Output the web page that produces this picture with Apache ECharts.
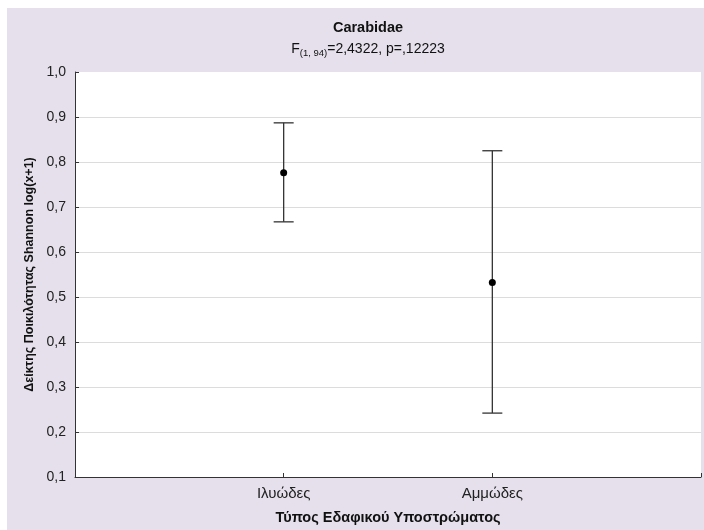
<!DOCTYPE html>
<html>
<head>
<meta charset="utf-8">
<script src="https://cdn.jsdelivr.net/npm/echarts@6/dist/echarts.min.js"></script>
<style>
  html, body { margin: 0; padding: 0; background: #ffffff; width: 704px; height: 530px; overflow: hidden; }
  #chart { position: absolute; left: 7px; top: 8px; width: 697px; height: 522px; }
</style>
</head>
<body>
<div id="chart"></div>
<script>
// Soil substrate groups and Shannon diversity (mean with interval bounds)
const categories = ['Ιλυώδες', 'Αμμώδες'];
const means = [0.776, 0.532];
const lowerBounds = [0.667, 0.242];
const upperBounds = [0.887, 0.825];
const yTicks = [0.1, 0.2, 0.3, 0.4, 0.5, 0.6, 0.7, 0.8, 0.9, 1.0];

const FONT = '"Liberation Sans", Arial, sans-serif';

const barData = categories.map((c, i) => [i + 1, lowerBounds[i], upperBounds[i], means[i]]);

const chart = echarts.init(document.getElementById('chart'));
chart.setOption({
  backgroundColor: '#e5e0eb',
  animation: false,
  title: {
    text: 'Carabidae',
    subtext: 'F{sub|(1, 94)}=2,4322, p=,12223',
    left: 356, textAlign: 'center', top: 7,
    itemGap: 6,
    textStyle: { fontFamily: FONT, fontSize: 14.5, fontWeight: 'bold', color: '#111' },
    subtextStyle: {
      fontFamily: FONT, fontSize: 14, color: '#111',
      rich: { sub: { fontFamily: FONT, fontSize: 9.5, color: '#111', verticalAlign: 'bottom', padding: [7, 0, 0, 0] } }
    }
  },
  grid: { left: 68, top: 64, right: 3, bottom: 52, show: true, backgroundColor: '#ffffff', borderWidth: 0 },
  xAxis: {
    type: 'value', min: 0, max: 3, interval: 1,
    name: 'Τύπος Εδαφικού Υποστρώματος', nameLocation: 'middle', nameGap: 33,
    nameTextStyle: { fontFamily: FONT, fontSize: 14.5, fontWeight: 'bold', color: '#111' },
    axisLine: { lineStyle: { color: '#333', width: 1 } },
    axisTick: { inside: true, length: 4, lineStyle: { color: '#333' } },
    axisLabel: {
      fontFamily: FONT, fontSize: 15, color: '#222', margin: 9,
      formatter: v => categories[v - 1] || ''
    },
    splitLine: { show: false }
  },
  yAxis: {
    type: 'value', min: yTicks[0], max: yTicks[yTicks.length - 1], interval: 0.1,
    name: 'Δείκτης Ποικιλότητας Shannon log(x+1)', nameLocation: 'middle', nameGap: 38,
    nameTextStyle: { fontFamily: FONT, fontSize: 12.5, fontWeight: 'bold', color: '#111' },
    axisLine: { show: true, lineStyle: { color: '#333', width: 1 } },
    axisTick: { show: true, inside: true, length: 4, lineStyle: { color: '#333' } },
    axisLabel: {
      fontFamily: FONT, fontSize: 14, color: '#222', margin: 9,
      formatter: v => v.toFixed(1).replace('.', ',')
    },
    splitLine: { show: true, showMaxLine: false, lineStyle: { color: '#dcdcdc', width: 1 } }
  },
  series: [{
    type: 'custom',
    data: barData,
    renderItem: (params, api) => {
      const x = api.value(0);
      const lo = api.coord([x, api.value(1)]);
      const hi = api.coord([x, api.value(2)]);
      const mid = api.coord([x, api.value(3)]);
      const half = 10;
      const ls = { stroke: '#333', lineWidth: 1.3 };
      return {
        type: 'group',
        children: [
          { type: 'line', shape: { x1: lo[0], y1: lo[1], x2: hi[0], y2: hi[1] }, style: ls },
          { type: 'line', shape: { x1: hi[0] - half, y1: hi[1], x2: hi[0] + half, y2: hi[1] }, style: ls },
          { type: 'line', shape: { x1: lo[0] - half, y1: lo[1], x2: lo[0] + half, y2: lo[1] }, style: ls },
          { type: 'circle', shape: { cx: mid[0], cy: mid[1], r: 3.5 }, style: { fill: '#000' } }
        ]
      };
    }
  }]
});
</script>
</body>
</html>
